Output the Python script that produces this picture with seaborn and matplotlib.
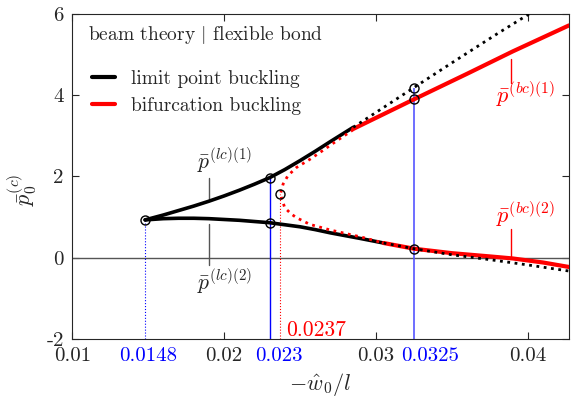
import matplotlib
matplotlib.use("Agg")
import matplotlib.pyplot as plt
import matplotlib.transforms as mtransforms
import seaborn as sns
from matplotlib.lines import Line2D

sns.set_style("ticks")
plt.rcParams["font.family"] = ["cmr10", "DejaVu Serif"]
plt.rcParams["mathtext.fontset"] = "cm"
plt.rcParams["axes.unicode_minus"] = False

# limit point branch (lc)(1), stable part and continuation
lc1_x = [0.0148, 0.016, 0.017, 0.018, 0.019, 0.020, 0.021, 0.022, 0.023, 0.024, 0.025, 0.026, 0.027, 0.0285]
lc1_y = [0.93, 1.05, 1.16, 1.27, 1.39, 1.52, 1.66, 1.81, 1.97, 2.17, 2.39, 2.62, 2.86, 3.21]
lc1_cont_x = [0.0285, 0.0325, 0.035, 0.038, 0.0405]
lc1_cont_y = [3.21, 4.19, 4.80, 5.52, 6.10]

# limit point branch (lc)(2)
lc2_x = [0.0148, 0.016, 0.017, 0.018, 0.019, 0.020, 0.021, 0.022, 0.023, 0.024, 0.025,
         0.026, 0.027, 0.028, 0.029, 0.0305]
lc2_y = [0.93, 0.96, 0.97, 0.97, 0.96, 0.94, 0.92, 0.89, 0.86, 0.81, 0.76,
         0.69, 0.61, 0.54, 0.47, 0.36]
lc2_cont_x = [0.0305, 0.0325, 0.035, 0.0375, 0.040, 0.0427]
lc2_cont_y = [0.36, 0.22, 0.07, -0.05, -0.18, -0.33]

# bifurcation branch, unstable C-shaped part around the turning point
bc_unst_x = [0.0285, 0.0275, 0.0265, 0.02564, 0.02476, 0.0242, 0.02388, 0.0237,
             0.02399, 0.0244, 0.02476, 0.02564, 0.027, 0.029, 0.0305]
bc_unst_y = [3.15, 2.90, 2.64, 2.42, 2.22, 2.02, 1.81, 1.56,
             1.23, 1.08, 0.985, 0.82, 0.68, 0.51, 0.36]

# bifurcation branches (bc)(1) and (bc)(2)
bc1_x = [0.0285, 0.0325, 0.036, 0.039, 0.0427]
bc1_y = [3.17, 3.90, 4.53, 5.08, 5.72]
bc2_x = [0.0305, 0.0325, 0.035, 0.0375, 0.039, 0.041, 0.0427]
bc2_y = [0.36, 0.22, 0.11, 0.03, -0.02, -0.12, -0.23]

# marked critical points
circ_x = [0.0148, 0.023, 0.023, 0.0237, 0.0325, 0.0325, 0.0325]
circ_y = [0.93, 1.97, 0.86, 1.56, 4.19, 3.90, 0.22]

# vertical guides
guide_x = [0.0148, 0.023, 0.0237, 0.0325]
guide_top = [0.93, 1.97, 1.56, 4.19]
guide_color = ["#0000ff", "#0000ff", "#ff0000", "#5555ff"]
guide_style = [":", "-", ":", "-"]
guide_lw = [0.8, 1.0, 0.8, 1.2]

major_ticks = [0.01, 0.02, 0.03, 0.04]
blue_ticks = [0.0148, 0.023, 0.0325]
blue_shift = [3, 9, 16]  # label offsets in px, as in the original figure
y_ticks = [-2, 0, 2, 4, 6]

fig, ax = plt.subplots(figsize=(5.73, 4.01), dpi=100)
fig.subplots_adjust(left=0.126, right=0.993, bottom=0.155, top=0.965)

ax.axhline(0, color="#555555", lw=1.0, zorder=1)

for gx, gt, gc, gs, gl in zip(guide_x, guide_top, guide_color, guide_style, guide_lw):
    ax.vlines(gx, -2, gt, colors=gc, linestyles=gs, lw=gl, zorder=2)

sns.lineplot(x=lc1_x, y=lc1_y, sort=False, estimator=None, color="black", lw=2.6, ax=ax, zorder=3)
sns.lineplot(x=lc2_x, y=lc2_y, sort=False, estimator=None, color="black", lw=2.6, ax=ax, zorder=3)
sns.lineplot(x=bc1_x, y=bc1_y, sort=False, estimator=None, color="red", lw=3.0, ax=ax, zorder=4)
sns.lineplot(x=bc2_x, y=bc2_y, sort=False, estimator=None, color="red", lw=3.0, ax=ax, zorder=4)
ax.plot(bc_unst_x, bc_unst_y, color="red", ls=":", lw=2.0, zorder=5)
ax.plot(lc1_cont_x, lc1_cont_y, color="black", ls=":", lw=2.0, zorder=6)
ax.plot(lc2_cont_x, lc2_cont_y, color="black", ls=":", lw=2.0, zorder=6)

ax.plot(circ_x, circ_y, ls="none", marker="o", ms=6.5, mfc="none", mec="black", mew=1.0, zorder=7)

# branch labels with leader lines
ax.plot([0.019, 0.019], [1.39, 1.95], color="#555555", lw=1.0)
ax.text(0.0182, 2.38, r"$\bar{p}^{(lc)(1)}$", fontsize=15.5, ha="left", va="center")
ax.plot([0.019, 0.019], [-0.19, 0.82], color="#555555", lw=1.0)
ax.text(0.0182, -0.6, r"$\bar{p}^{(lc)(2)}$", fontsize=15.5, ha="left", va="center")
ax.plot([0.0389, 0.0389], [4.31, 4.89], color="red", lw=1.0)
ax.text(0.0379, 4.02, r"$\bar{p}^{(bc)(1)}$", fontsize=16, ha="left", va="center", color="red")
ax.plot([0.0389, 0.0389], [0.0, 0.70], color="red", lw=1.0)
ax.text(0.0379, 1.07, r"$\bar{p}^{(bc)(2)}$", fontsize=16, ha="left", va="center", color="red")
ax.text(0.0241, -1.8, "0.0237", fontsize=15.5, ha="left", va="center", color="red")

ax.text(0.032, 0.935, r"beam theory $|$ flexible bond", transform=ax.transAxes,
        fontsize=14, ha="left", va="center")
handles = [Line2D([], [], color="black", lw=3), Line2D([], [], color="red", lw=3)]
ax.legend(handles, ["limit point buckling", "bifurcation buckling"], loc="upper left",
          bbox_to_anchor=(0.04, 0.828), frameon=False, fontsize=14, handlelength=1.2,
          handletextpad=0.8, labelspacing=0.45, borderaxespad=0, borderpad=0)

ax.set_xlim(0.01, 0.0427)
ax.set_ylim(-2, 6)
ax.set_xticks(major_ticks, labels=["0.01", "0.02", "0.03", "0.04"])
ax.set_xticks(blue_ticks, labels=["0.0148", "0.023", "0.0325"], minor=True)
ax.set_yticks(y_ticks, labels=["-2", "0", "2", "4", "6"])
ax.tick_params(which="major", direction="in", length=5, width=0.8, top=True, right=True,
               labelsize=15, colors="#262626", pad=6)
ax.tick_params(which="minor", axis="x", length=0, labelsize=15, labelcolor="#0000ff", pad=6)
for lab, dx in zip(ax.get_xticklabels(minor=True), blue_shift):
    off = mtransforms.ScaledTranslation(dx / 100, 0, fig.dpi_scale_trans)
    lab.set_transform(lab.get_transform() + off)
for s in ax.spines.values():
    s.set_visible(True)
    s.set_color("#262626")
    s.set_linewidth(0.8)

ax.set_xlabel(r"$-\hat{w}_0/l$", fontsize=16, labelpad=4)
ax.set_ylabel(r"$\bar{p}_0^{(c)}$", fontsize=16)
ax.yaxis.set_label_coords(-0.066, 0.46)

fig.savefig("out.png", dpi=100)
